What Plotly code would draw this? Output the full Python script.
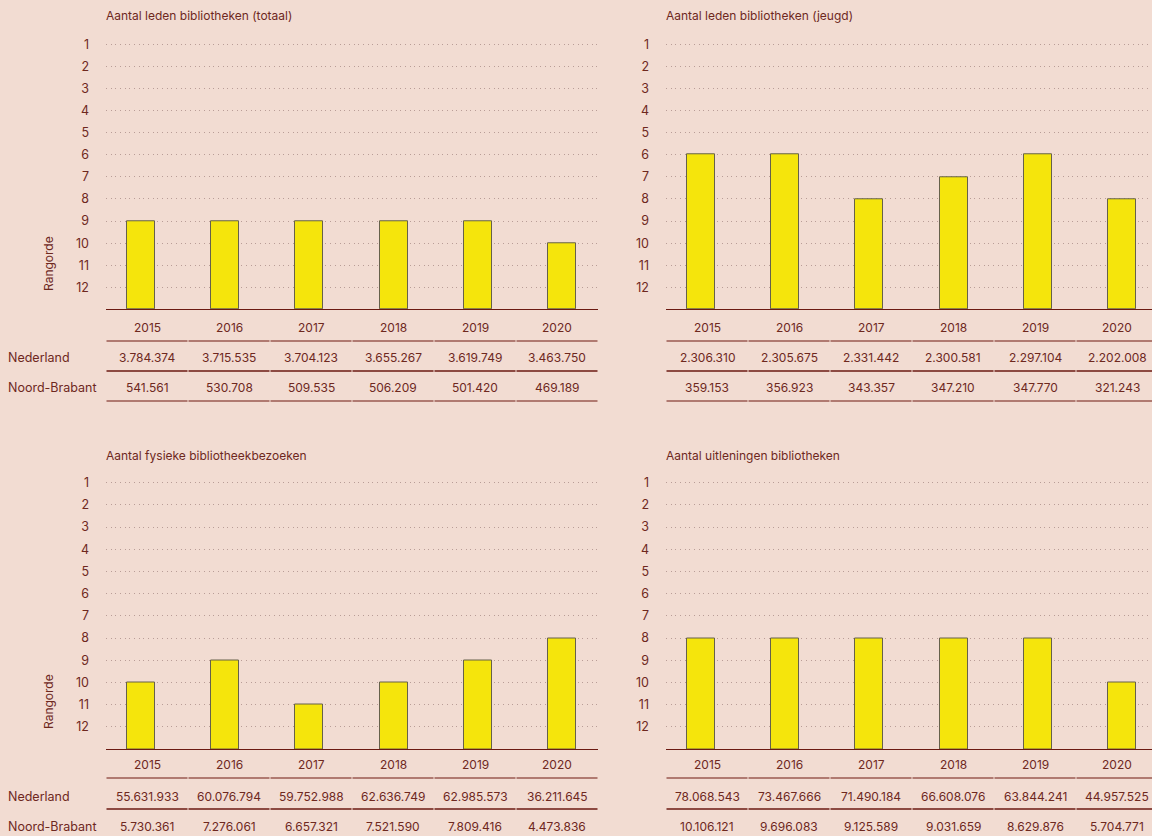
import plotly.graph_objects as go

W, H = 1152, 836

years = ["2015", "2016", "2017", "2018", "2019", "2020"]
ranks_ticks = list(range(1, 13))

titles = [
    "Aantal leden bibliotheken (totaal)",
    "Aantal leden bibliotheken (jeugd)",
    "Aantal fysieke bibliotheekbezoeken",
    "Aantal uitleningen bibliotheken",
]

rank_totaal = [9, 9, 9, 9, 9, 10]
rank_jeugd = [6, 6, 8, 7, 6, 8]
rank_bezoeken = [10, 9, 11, 10, 9, 8]
rank_uitleningen = [8, 8, 8, 8, 8, 10]

nl_totaal = ["3.784.374", "3.715.535", "3.704.123", "3.655.267", "3.619.749", "3.463.750"]
nb_totaal = ["541.561", "530.708", "509.535", "506.209", "501.420", "469.189"]
nl_jeugd = ["2.306.310", "2.305.675", "2.331.442", "2.300.581", "2.297.104", "2.202.008"]
nb_jeugd = ["359.153", "356.923", "343.357", "347.210", "347.770", "321.243"]
nl_bezoeken = ["55.631.933", "60.076.794", "59.752.988", "62.636.749", "62.985.573", "36.211.645"]
nb_bezoeken = ["5.730.361", "7.276.061", "6.657.321", "7.521.590", "7.809.416", "4.473.836"]
nl_uitleningen = ["78.068.543", "73.467.666", "71.490.184", "66.608.076", "63.844.241", "44.957.525"]
nb_uitleningen = ["10.106.121", "9.696.083", "9.125.589", "9.031.659", "8.629.876", "5.704.771"]

row_labels = ["Nederland", "Noord-Brabant"]

BG = "#f2dcd2"
TXT = "#6e281e"
BASE = "#6b1a12"
TLINE = "#9a5a50"
BAR = "#f5e50c"
BAR_EDGE = "#66614a"
GRID = "#b99d97"
FONT = "Inter"


def px(x):
    return x / W


def py(y):
    return 1 - y / H


panels = [
    (rank_totaal, nl_totaal, nb_totaal, 0, 0),
    (rank_jeugd, nl_jeugd, nb_jeugd, 560, 0),
    (rank_bezoeken, nl_bezoeken, nb_bezoeken, 0, 1),
    (rank_uitleningen, nl_uitleningen, nb_uitleningen, 560, 1),
]

rows_geo = [
    dict(base=309.4, unit=22.09, title=16, year=327, l1=341, nl=358, l2=371, nb=387, l3=401, rang=264),
    dict(base=749.0, unit=22.2, title=456, year=764, l1=778, nl=796, l2=809, nb=826, l3=838, rang=702),
]

fig = go.Figure()
annotations = []
shapes = []

bar_c0 = 141.0
bar_step = 84.2
left0 = 106.0
right0 = 598.0
col_w = 82.0
col_c0 = 147.0

for i, (ranks, nl, nb, xo, ri) in enumerate(panels):
    g = rows_geo[ri]
    n = i + 1
    xa = "x" if n == 1 else f"x{n}"
    ya = "y" if n == 1 else f"y{n}"
    xk = "xaxis" if n == 1 else f"xaxis{n}"
    yk = "yaxis" if n == 1 else f"yaxis{n}"

    dl = left0 + xo
    dr = min(right0 + xo, W)
    c0 = bar_c0 + xo
    r_lo = (dl - c0) / bar_step
    r_hi = (dr - c0) / bar_step

    top_px = g["base"] - 12.5 * g["unit"]

    fig.add_trace(go.Bar(
        x=list(range(len(years))),
        y=[13 - r for r in ranks],
        base=ranks,
        width=28 / bar_step,
        marker=dict(color=BAR, line=dict(color=BAR_EDGE, width=1)),
        xaxis=xa, yaxis=ya,
        hovertext=years,
        showlegend=False,
    ))

    fig.layout[xk] = dict(
        domain=[px(dl), px(dr)], range=[r_lo, r_hi],
        showgrid=False, zeroline=False, showticklabels=False, ticks="",
        showline=True, linecolor=BASE, linewidth=1.2,
        anchor=ya, fixedrange=True,
    )
    fig.layout[yk] = dict(
        domain=[py(g["base"]), py(top_px)], range=[13, 0.5],
        tickvals=ranks_ticks, ticktext=[str(t) for t in ranks_ticks],
        showgrid=True, gridcolor=GRID, gridwidth=1, griddash="1px,3.67px",
        zeroline=False, showline=False, ticks="",
        ticklabelstandoff=16,
        tickfont=dict(family=FONT, size=12.5, color=TXT),
        anchor=xa, fixedrange=True,
    )

    annotations.append(dict(
        x=px(dl - 2), y=py(g["title"]), xref="paper", yref="paper",
        text=titles[i], showarrow=False, xanchor="left", yanchor="middle",
        font=dict(family=FONT, size=12, color=TXT),
    ))

    if xo == 0:
        annotations.append(dict(
            x=px(48), y=py(g["rang"]), xref="paper", yref="paper",
            text="Rangorde", showarrow=False, textangle=-90,
            xanchor="center", yanchor="middle",
            font=dict(family=FONT, size=12, color=TXT),
        ))
        for lab, yy in zip(row_labels, [g["nl"], g["nb"]]):
            annotations.append(dict(
                x=px(6), y=py(yy), xref="paper", yref="paper",
                text=lab, showarrow=False, xanchor="left", yanchor="middle",
                font=dict(family=FONT, size=12.5, color=TXT),
            ))

    for j in range(len(years)):
        cx = col_c0 + xo + col_w * j
        for txt, yy in zip([years[j], nl[j], nb[j]], [g["year"], g["nl"], g["nb"]]):
            annotations.append(dict(
                x=px(cx), y=py(yy), xref="paper", yref="paper",
                text=txt, showarrow=False, xanchor="center", yanchor="middle",
                font=dict(family=FONT, size=12, color=TXT),
            ))
        x0 = left0 + xo + col_w * j + 0.5
        x1 = x0 + col_w - 1
        for ly, lc in zip([g["l1"], g["l2"], g["l3"]], [TLINE, BASE, TLINE]):
            shapes.append(dict(
                type="line", xref="paper", yref="paper",
                x0=px(x0), x1=px(x1), y0=py(ly), y1=py(ly),
                line=dict(color=lc, width=1.3),
            ))

fig.update_layout(
    width=W, height=H,
    margin=dict(l=0, r=0, t=0, b=0),
    paper_bgcolor=BG, plot_bgcolor=BG,
    showlegend=False,
    annotations=annotations,
    shapes=shapes,
    bargap=0,
    font=dict(family=FONT, color=TXT),
)

fig.write_html("out.html", config={"displayModeBar": False},
               post_script="document.body.style.margin='0';")
